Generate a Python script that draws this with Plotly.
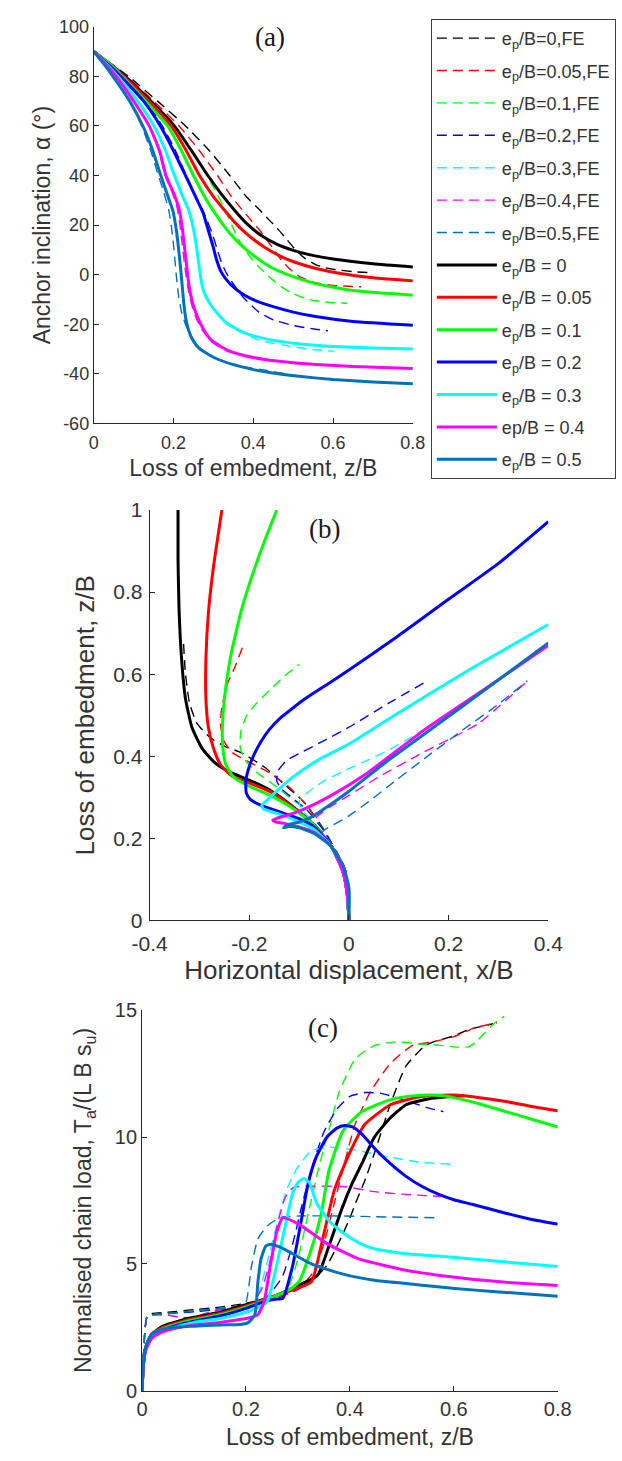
import plotly.graph_objects as go

# ---------------------------------------------------------------------------
# Series styling / labels
# ---------------------------------------------------------------------------
EP_VALUES = ["0", "0.05", "0.1", "0.2", "0.3", "0.4", "0.5"]
COLORS = ["#000000", "#FF0000", "#00FF00", "#0000FF", "#00FFFF", "#FF00FF", "#0072BD"]
FE_LABELS = ["e<sub>p</sub>/B=0,FE", "e<sub>p</sub>/B=0.05,FE", "e<sub>p</sub>/B=0.1,FE",
             "e<sub>p</sub>/B=0.2,FE", "e<sub>p</sub>/B=0.3,FE", "e<sub>p</sub>/B=0.4,FE",
             "e<sub>p</sub>/B=0.5,FE"]
AN_LABELS = ["e<sub>p</sub>/B = 0", "e<sub>p</sub>/B = 0.05", "e<sub>p</sub>/B = 0.1",
             "e<sub>p</sub>/B = 0.2", "e<sub>p</sub>/B = 0.3", "ep/B = 0.4",
             "e<sub>p</sub>/B = 0.5"]

# ---------------------------------------------------------------------------
# (a) anchor inclination vs loss of embedment
# ---------------------------------------------------------------------------
# FE results
a_fe0_z = [0, 0.045, 0.087, 0.16, 0.23, 0.29, 0.341, 0.385, 0.413, 0.44, 0.46, 0.485, 0.508, 0.53, 0.556, 0.58, 0.603, 0.65, 0.698]
a_fe0_al = [90, 85, 80, 70, 60, 50, 40, 31, 26.6, 22, 18.7, 14, 9.6, 6.5, 4.1, 2.8, 2.1, 1.2, 0.8]
a_fe005_z = [0, 0.044, 0.083, 0.15, 0.214, 0.265, 0.31, 0.345, 0.373, 0.393, 0.413, 0.433, 0.452, 0.47, 0.49, 0.516, 0.55, 0.6, 0.67]
a_fe005_al = [90, 85, 80, 70, 60, 50, 40, 31.5, 26, 22.2, 18.5, 14.3, 10, 6, 2.5, -0.8, -3, -4.3, -4.9]
a_fe01_z = [0, 0.044, 0.08, 0.145, 0.2, 0.245, 0.28, 0.308, 0.328, 0.346, 0.365, 0.389, 0.413, 0.444, 0.47, 0.492, 0.52, 0.556, 0.6, 0.635]
a_fe01_al = [90, 85, 80, 70, 60, 50, 41, 33, 26.5, 20, 13.6, 7.8, 3.3, -1.5, -4.8, -7, -9, -10.5, -11.3, -11.5]
a_fe02_z = [0, 0.037, 0.07, 0.13, 0.172, 0.205, 0.232, 0.258, 0.28, 0.296, 0.309, 0.32, 0.333, 0.349, 0.373, 0.413, 0.45, 0.5, 0.556, 0.587]
a_fe02_al = [90, 85, 80, 70, 60, 50, 40, 31, 23.5, 17, 10.5, 5, 0.5, -3.5, -8.8, -15, -18.2, -20.5, -22, -22.6]
a_fe03_z = [0, 0.032, 0.06, 0.11, 0.151, 0.18, 0.2, 0.222, 0.238, 0.248, 0.256, 0.262, 0.268, 0.276, 0.29, 0.317, 0.357, 0.413, 0.492, 0.55, 0.603]
a_fe03_al = [90, 85, 80, 70, 60, 50, 41, 32, 26, 19.5, 12, 5, -1, -6, -11, -17, -22.2, -26.3, -28.9, -30.2, -30.9]
a_fe04_z = [0, 0.03, 0.056, 0.1, 0.138, 0.163, 0.179, 0.197, 0.209, 0.216, 0.222, 0.227, 0.232, 0.238, 0.246, 0.258, 0.275, 0.295, 0.33, 0.38, 0.42, 0.45]
a_fe04_al = [90, 85, 80, 70, 60, 50, 40, 33, 27, 20, 12, 5, -1, -7, -12.5, -18, -23, -27, -30.5, -32.8, -34, -34.5]
a_fe05_z = [0, 0.025, 0.048, 0.09, 0.12, 0.143, 0.16, 0.176, 0.188, 0.195, 0.2, 0.204, 0.208, 0.213, 0.22, 0.23, 0.245, 0.265, 0.29, 0.333, 0.38, 0.421, 0.5, 0.567]
a_fe05_al = [90, 85, 80, 70, 60, 50, 41, 33, 26, 19, 12, 5, -2, -9, -15, -20, -25, -29.5, -32.5, -35.5, -37.2, -38.3, -40.5, -42]

# analytical results
a_an0_z = [0, 0.04, 0.079, 0.14, 0.202, 0.245, 0.286, 0.32, 0.353, 0.381, 0.42, 0.46, 0.5, 0.54, 0.6, 0.7, 0.8]
a_an0_al = [90, 85, 80, 70.5, 60, 50, 40, 32.5, 26, 21, 15.8, 12.2, 9.8, 8.1, 6.3, 4.4, 3.1]
a_an005_z = [0, 0.04, 0.075, 0.135, 0.194, 0.232, 0.265, 0.3, 0.333, 0.353, 0.373, 0.4, 0.429, 0.47, 0.516, 0.56, 0.619, 0.7, 0.8]
a_an005_al = [90, 85, 80, 70.5, 60, 50, 40, 31.5, 25, 21.2, 18, 14.3, 11, 7.3, 4.4, 2.4, 0.5, -1.2, -2.5]
a_an01_z = [0, 0.04, 0.071, 0.13, 0.185, 0.22, 0.25, 0.283, 0.303, 0.325, 0.345, 0.365, 0.389, 0.415, 0.444, 0.5, 0.556, 0.65, 0.8]
a_an01_al = [90, 85, 80, 70, 60, 50, 40, 30, 25, 20, 16, 12.6, 9.2, 6, 3, -0.8, -3.6, -6.4, -8.3]
a_an02_z = [0, 0.035, 0.067, 0.125, 0.167, 0.2, 0.23, 0.255, 0.274, 0.287, 0.298, 0.308, 0.318, 0.33, 0.345, 0.373, 0.41, 0.452, 0.5, 0.556, 0.65, 0.8]
a_an02_al = [90, 85, 80, 70, 60, 50, 40, 31.5, 25, 18, 12, 6, 1.5, -1.5, -4.2, -7.8, -10.8, -13, -15.1, -16.9, -18.9, -20.4]
a_an03_z = [0, 0.032, 0.06, 0.11, 0.151, 0.18, 0.2, 0.222, 0.238, 0.248, 0.256, 0.262, 0.267, 0.272, 0.28, 0.298, 0.333, 0.381, 0.444, 0.52, 0.6, 0.7, 0.8]
a_an03_al = [90, 85, 80, 70, 60, 50, 41, 32, 26, 20, 13, 6, 0, -4.5, -8.5, -13.3, -19.5, -23.7, -26.3, -28, -29, -29.6, -30]
a_an04_z = [0, 0.03, 0.056, 0.1, 0.139, 0.165, 0.181, 0.2, 0.213, 0.221, 0.227, 0.232, 0.236, 0.241, 0.248, 0.26, 0.275, 0.294, 0.333, 0.38, 0.429, 0.5, 0.556, 0.65, 0.8]
a_an04_al = [90, 85, 80, 70, 60, 50, 40, 33, 27, 20, 12, 5, -1, -6.5, -11.5, -17, -22, -26.3, -30.3, -32.7, -34.2, -35.5, -36.2, -37, -37.8]
a_an05_z = [0, 0.025, 0.048, 0.09, 0.123, 0.148, 0.167, 0.185, 0.198, 0.207, 0.213, 0.218, 0.222, 0.226, 0.231, 0.238, 0.248, 0.265, 0.3, 0.35, 0.4, 0.444, 0.52, 0.6, 0.7, 0.8]
a_an05_al = [90, 85, 80, 70, 60, 50, 40.5, 32, 26, 18, 10, 2, -5, -12, -18, -22.5, -26.3, -29.8, -33.3, -36.3, -38.3, -39.6, -41.1, -42.3, -43.3, -44]

# ---------------------------------------------------------------------------
# (b) anchor trajectory: horizontal displacement x/B vs loss of embedment z/B
# ---------------------------------------------------------------------------
b_fe0_x = [0, -0.001, -0.006, -0.025, -0.051, -0.089, -0.133, -0.171, -0.215, -0.25, -0.278, -0.305, -0.32, -0.328, -0.332]
b_fe0_z = [0, 0.06, 0.119, 0.167, 0.223, 0.287, 0.335, 0.375, 0.408, 0.425, 0.445, 0.48, 0.53, 0.6, 0.676]
b_fe005_x = [0, -0.001, -0.006, -0.025, -0.051, -0.085, -0.12, -0.16, -0.2, -0.235, -0.252, -0.258, -0.255, -0.244, -0.228, -0.212]
b_fe005_z = [0, 0.06, 0.119, 0.167, 0.22, 0.28, 0.325, 0.36, 0.386, 0.41, 0.44, 0.481, 0.52, 0.576, 0.62, 0.671]
b_fe01_x = [0, -0.001, -0.006, -0.025, -0.051, -0.085, -0.114, -0.15, -0.183, -0.208, -0.218, -0.217, -0.205, -0.185, -0.16, -0.13, -0.1]
b_fe01_z = [0, 0.06, 0.119, 0.167, 0.22, 0.27, 0.295, 0.33, 0.359, 0.39, 0.42, 0.46, 0.5, 0.53, 0.56, 0.595, 0.624]
b_fe02_x = [0, -0.001, -0.006, -0.025, -0.051, -0.085, -0.115, -0.135, -0.145, -0.142, -0.125, -0.095, -0.05, 0.006, 0.079, 0.156]
b_fe02_z = [0, 0.06, 0.119, 0.167, 0.22, 0.27, 0.3, 0.32, 0.34, 0.365, 0.39, 0.41, 0.438, 0.475, 0.529, 0.583]
b_fe03_x = [0, -0.001, -0.006, -0.025, -0.05, -0.075, -0.095, -0.1, -0.085, -0.05, 0.0, 0.04, 0.079, 0.12, 0.16]
b_fe03_z = [0, 0.06, 0.119, 0.167, 0.21, 0.245, 0.27, 0.29, 0.31, 0.34, 0.37, 0.392, 0.415, 0.443, 0.473]
b_fe04_x = [0, -0.001, -0.006, -0.025, -0.05, -0.068, -0.065, -0.04, 0.0, 0.06, 0.15, 0.26, 0.355]
b_fe04_z = [0, 0.06, 0.119, 0.167, 0.21, 0.235, 0.252, 0.275, 0.305, 0.35, 0.41, 0.48, 0.58]
b_fe05_x = [0, -0.001, -0.006, -0.025, -0.045, -0.058, -0.05, -0.025, 0.0, 0.04, 0.079, 0.152, 0.226, 0.3, 0.358]
b_fe05_z = [0, 0.06, 0.119, 0.167, 0.19, 0.205, 0.22, 0.237, 0.255, 0.29, 0.327, 0.395, 0.462, 0.527, 0.584]

b_an0_x = [0, -0.003, -0.012, -0.035, -0.07, -0.11, -0.155, -0.2, -0.24, -0.27, -0.295, -0.315, -0.328, -0.336, -0.341, -0.343, -0.343]
b_an0_z = [0, 0.06, 0.119, 0.18, 0.232, 0.275, 0.315, 0.342, 0.362, 0.385, 0.42, 0.47, 0.54, 0.64, 0.76, 0.88, 1.0]
b_an005_x = [0, -0.003, -0.012, -0.035, -0.07, -0.11, -0.155, -0.2, -0.235, -0.258, -0.272, -0.282, -0.287, -0.287, -0.282, -0.272, -0.255]
b_an005_z = [0, 0.06, 0.119, 0.18, 0.232, 0.273, 0.312, 0.335, 0.352, 0.38, 0.42, 0.47, 0.54, 0.64, 0.75, 0.86, 1.0]
b_an01_x = [0, -0.003, -0.012, -0.035, -0.07, -0.11, -0.155, -0.2, -0.232, -0.247, -0.253, -0.254, -0.25, -0.238, -0.215, -0.18, -0.145]
b_an01_z = [0, 0.06, 0.119, 0.18, 0.232, 0.271, 0.303, 0.327, 0.35, 0.38, 0.42, 0.47, 0.54, 0.64, 0.76, 0.89, 1.0]
b_an02_x = [0, -0.003, -0.012, -0.035, -0.07, -0.1, -0.14, -0.177, -0.198, -0.206, -0.207, -0.2, -0.19, -0.177, -0.16, -0.139, -0.11, -0.088, -0.04, 0.0, 0.095, 0.19, 0.3, 0.4]
b_an02_z = [0, 0.06, 0.119, 0.18, 0.228, 0.248, 0.265, 0.281, 0.295, 0.311, 0.34, 0.375, 0.405, 0.435, 0.465, 0.492, 0.52, 0.54, 0.578, 0.61, 0.69, 0.774, 0.87, 0.972]
b_an03_x = [0, -0.003, -0.012, -0.035, -0.07, -0.1, -0.13, -0.155, -0.172, -0.175, -0.165, -0.145, -0.114, -0.063, 0.0, 0.075, 0.152, 0.25, 0.4]
b_an03_z = [0, 0.06, 0.119, 0.18, 0.222, 0.24, 0.255, 0.265, 0.272, 0.28, 0.292, 0.315, 0.348, 0.39, 0.43, 0.487, 0.545, 0.617, 0.721]
b_an04_x = [0, -0.003, -0.012, -0.035, -0.07, -0.1, -0.128, -0.148, -0.153, -0.145, -0.12, -0.089, -0.038, 0.032, 0.152, 0.28, 0.4]
b_an04_z = [0, 0.06, 0.119, 0.18, 0.215, 0.228, 0.236, 0.24, 0.244, 0.249, 0.258, 0.272, 0.303, 0.355, 0.465, 0.57, 0.67]
b_an05_x = [0, 0.0, -0.012, -0.038, -0.07, -0.1, -0.122, -0.131, -0.125, -0.1, -0.075, -0.04, 0.0, 0.079, 0.226, 0.4]
b_an05_z = [0, 0.079, 0.135, 0.183, 0.212, 0.226, 0.229, 0.226, 0.232, 0.24, 0.252, 0.28, 0.315, 0.39, 0.52, 0.676]

# ---------------------------------------------------------------------------
# (c) normalised chain load vs loss of embedment
# ---------------------------------------------------------------------------
c_fe0_z = [0, 0.003, 0.006, 0.01, 0.02, 0.05, 0.1, 0.15, 0.2, 0.25, 0.3, 0.33, 0.356, 0.38, 0.399, 0.411, 0.429, 0.447, 0.478, 0.508, 0.545, 0.569, 0.6, 0.63, 0.676]
c_fe0_t = [0, 1.5, 2.5, 2.95, 3.05, 3.1, 3.2, 3.3, 3.45, 3.65, 4.0, 4.4, 4.95, 5.9, 6.76, 7.4, 8.3, 9.35, 11.3, 12.8, 13.6, 13.8, 13.98, 14.24, 14.46]
c_fe005_z = [0, 0.003, 0.006, 0.01, 0.02, 0.05, 0.1, 0.15, 0.2, 0.25, 0.3, 0.33, 0.35, 0.37, 0.39, 0.41, 0.44, 0.478, 0.52, 0.56, 0.6, 0.64, 0.683]
c_fe005_t = [0, 1.5, 2.5, 2.95, 3.0, 3.05, 3.15, 3.25, 3.4, 3.6, 4.0, 4.7, 5.8, 7.4, 9.0, 10.5, 11.8, 12.9, 13.6, 13.75, 13.95, 14.3, 14.5]
c_fe01_z = [0, 0.003, 0.006, 0.01, 0.02, 0.05, 0.1, 0.15, 0.2, 0.25, 0.28, 0.3, 0.32, 0.34, 0.36, 0.38, 0.411, 0.447, 0.49, 0.539, 0.571, 0.6, 0.629, 0.643, 0.679, 0.697]
c_fe01_t = [0, 1.5, 2.5, 2.95, 3.0, 3.05, 3.15, 3.25, 3.4, 3.6, 4.0, 5.2, 7.0, 8.8, 10.3, 11.8, 13.1, 13.6, 13.75, 13.65, 13.62, 13.55, 13.55, 13.75, 14.5, 14.75]
c_fe02_z = [0, 0.003, 0.006, 0.01, 0.02, 0.05, 0.1, 0.15, 0.2, 0.24, 0.27, 0.29, 0.31, 0.33, 0.35, 0.375, 0.4, 0.43, 0.46, 0.49, 0.52, 0.55, 0.58]
c_fe02_t = [0, 1.5, 2.5, 2.95, 3.0, 3.05, 3.12, 3.22, 3.4, 3.7, 4.5, 5.8, 7.5, 9.0, 10.2, 11.1, 11.6, 11.75, 11.72, 11.55, 11.35, 11.15, 11.0]
c_fe03_z = [0, 0.003, 0.006, 0.01, 0.02, 0.05, 0.08, 0.1, 0.13, 0.15, 0.2, 0.22, 0.24, 0.265, 0.28, 0.296, 0.326, 0.36, 0.417, 0.478, 0.539, 0.593]
c_fe03_t = [0, 1.5, 2.5, 2.95, 3.0, 2.98, 2.9, 2.92, 3.1, 3.2, 3.3, 3.6, 5.0, 7.0, 8.0, 8.7, 9.46, 9.6, 9.46, 9.2, 9.0, 8.93]
c_fe04_z = [0, 0.003, 0.006, 0.01, 0.02, 0.05, 0.08, 0.1, 0.13, 0.15, 0.19, 0.21, 0.23, 0.245, 0.26, 0.275, 0.29, 0.302, 0.387, 0.447, 0.5, 0.539, 0.575]
c_fe04_t = [0, 1.5, 2.5, 2.95, 3.0, 2.98, 2.88, 2.9, 3.1, 3.2, 3.3, 3.4, 4.0, 5.0, 6.5, 7.6, 8.0, 8.05, 8.05, 7.85, 7.75, 7.7, 7.66]
c_fe05_z = [0, 0.003, 0.006, 0.01, 0.02, 0.05, 0.1, 0.15, 0.19, 0.2, 0.211, 0.223, 0.241, 0.265, 0.302, 0.387, 0.447, 0.566]
c_fe05_t = [0, 1.5, 2.5, 2.95, 3.0, 3.05, 3.15, 3.25, 3.35, 3.5, 4.95, 5.99, 6.5, 6.82, 6.89, 6.89, 6.86, 6.82]

c_an0_z = [0, 0.002, 0.005, 0.01, 0.02, 0.04, 0.07, 0.1, 0.15, 0.2, 0.25, 0.3, 0.338, 0.362, 0.385, 0.405, 0.423, 0.447, 0.478, 0.508, 0.55, 0.6, 0.62]
c_an0_t = [0, 0.9, 1.5, 1.9, 2.25, 2.55, 2.75, 2.9, 3.1, 3.4, 3.7, 4.15, 4.56, 5.85, 7.2, 8.2, 8.95, 9.99, 10.76, 11.27, 11.5, 11.6, 11.62]
c_an005_z = [0, 0.002, 0.005, 0.01, 0.02, 0.04, 0.07, 0.1, 0.15, 0.2, 0.25, 0.3, 0.326, 0.35, 0.37, 0.399, 0.429, 0.478, 0.539, 0.6, 0.65, 0.7, 0.75, 0.8]
c_an005_t = [0, 0.9, 1.5, 1.9, 2.25, 2.5, 2.7, 2.85, 3.05, 3.35, 3.7, 4.05, 4.3, 6.2, 7.9, 9.35, 10.5, 11.27, 11.6, 11.65, 11.55, 11.4, 11.2, 11.03]
c_an01_z = [0, 0.002, 0.005, 0.01, 0.02, 0.04, 0.07, 0.1, 0.15, 0.2, 0.25, 0.28, 0.302, 0.326, 0.344, 0.36, 0.387, 0.423, 0.478, 0.52, 0.56, 0.6, 0.65, 0.7, 0.75, 0.8]
c_an01_t = [0, 0.9, 1.5, 1.85, 2.2, 2.45, 2.65, 2.8, 3.0, 3.3, 3.68, 3.95, 4.3, 5.6, 6.9, 8.7, 10.25, 11.0, 11.47, 11.62, 11.65, 11.55, 11.3, 11.0, 10.7, 10.39]
c_an02_z = [0, 0.002, 0.005, 0.01, 0.02, 0.04, 0.07, 0.1, 0.15, 0.2, 0.24, 0.26, 0.271, 0.29, 0.308, 0.32, 0.335, 0.356, 0.375, 0.39, 0.405, 0.423, 0.45, 0.478, 0.508, 0.539, 0.57, 0.6, 0.635, 0.7, 0.75, 0.8]
c_an02_t = [0, 0.85, 1.45, 1.8, 2.15, 2.4, 2.6, 2.75, 2.95, 3.25, 3.55, 3.62, 3.65, 4.95, 6.89, 8.2, 9.2, 10.0, 10.35, 10.45, 10.4, 10.11, 9.5, 8.95, 8.45, 8.05, 7.75, 7.53, 7.35, 7.0, 6.75, 6.57]
c_an03_z = [0, 0.002, 0.005, 0.01, 0.02, 0.04, 0.07, 0.1, 0.15, 0.2, 0.225, 0.241, 0.259, 0.277, 0.29, 0.3, 0.311, 0.322, 0.336, 0.36, 0.386, 0.42, 0.447, 0.508, 0.569, 0.635, 0.7, 0.8]
c_an03_t = [0, 0.85, 1.45, 1.78, 2.12, 2.37, 2.55, 2.7, 2.85, 3.1, 3.3, 3.52, 4.95, 6.63, 7.8, 8.2, 8.37, 8.2, 7.4, 6.7, 6.24, 5.8, 5.6, 5.4, 5.31, 5.2, 5.08, 4.9]
c_an04_z = [0, 0.002, 0.005, 0.01, 0.02, 0.04, 0.07, 0.1, 0.15, 0.2, 0.21, 0.223, 0.235, 0.247, 0.259, 0.271, 0.302, 0.357, 0.417, 0.508, 0.569, 0.635, 0.7, 0.8]
c_an04_t = [0, 0.8, 1.4, 1.75, 2.1, 2.33, 2.5, 2.6, 2.7, 2.85, 2.9, 3.0, 3.52, 4.95, 6.24, 6.82, 6.56, 5.79, 5.2, 4.75, 4.56, 4.4, 4.28, 4.15]
c_an05_z = [0, 0.002, 0.007, 0.018, 0.035, 0.053, 0.1, 0.15, 0.19, 0.205, 0.217, 0.223, 0.229, 0.238, 0.247, 0.266, 0.326, 0.387, 0.447, 0.508, 0.569, 0.635, 0.7, 0.8]
c_an05_t = [0, 0.94, 1.72, 2.23, 2.4, 2.49, 2.55, 2.6, 2.62, 2.7, 3.0, 4.3, 5.2, 5.7, 5.78, 5.66, 5.0, 4.6, 4.36, 4.23, 4.1, 3.98, 3.88, 3.73]

A_FE = [(a_fe0_z, a_fe0_al), (a_fe005_z, a_fe005_al), (a_fe01_z, a_fe01_al), (a_fe02_z, a_fe02_al),
        (a_fe03_z, a_fe03_al), (a_fe04_z, a_fe04_al), (a_fe05_z, a_fe05_al)]
A_AN = [(a_an0_z, a_an0_al), (a_an005_z, a_an005_al), (a_an01_z, a_an01_al), (a_an02_z, a_an02_al),
        (a_an03_z, a_an03_al), (a_an04_z, a_an04_al), (a_an05_z, a_an05_al)]
B_FE = [(b_fe0_x, b_fe0_z), (b_fe005_x, b_fe005_z), (b_fe01_x, b_fe01_z), (b_fe02_x, b_fe02_z),
        (b_fe03_x, b_fe03_z), (b_fe04_x, b_fe04_z), (b_fe05_x, b_fe05_z)]
B_AN = [(b_an0_x, b_an0_z), (b_an005_x, b_an005_z), (b_an01_x, b_an01_z), (b_an02_x, b_an02_z),
        (b_an03_x, b_an03_z), (b_an04_x, b_an04_z), (b_an05_x, b_an05_z)]
C_FE = [(c_fe0_z, c_fe0_t), (c_fe005_z, c_fe005_t), (c_fe01_z, c_fe01_t), (c_fe02_z, c_fe02_t),
        (c_fe03_z, c_fe03_t), (c_fe04_z, c_fe04_t), (c_fe05_z, c_fe05_t)]
C_AN = [(c_an0_z, c_an0_t), (c_an005_z, c_an005_t), (c_an01_z, c_an01_t), (c_an02_z, c_an02_t),
        (c_an03_z, c_an03_t), (c_an04_z, c_an04_t), (c_an05_z, c_an05_t)]

# ---------------------------------------------------------------------------
# Figure
# ---------------------------------------------------------------------------
W, H = 622, 1461
FE_WIDTH, AN_WIDTH = 1.4, 3.0
DASH = "10px,6px"

fig = go.Figure()


def add_series(xs, ys, color, dashed, xa, ya, name, legend):
    fig.add_trace(go.Scatter(
        x=xs, y=ys, mode="lines", name=name,
        xaxis=xa, yaxis=ya,
        line=dict(color=color, width=FE_WIDTH if dashed else AN_WIDTH,
                  dash=DASH if dashed else "solid", shape="spline", smoothing=0.5),
        showlegend=legend, legendgroup=name, hoverinfo="skip",
    ))


panels = [(A_FE, A_AN, "x", "y", True), (B_FE, B_AN, "x2", "y2", False), (C_FE, C_AN, "x3", "y3", False)]
for fe, an, xa, ya, legend in panels:
    for i, (xs, ys) in enumerate(fe):
        add_series(xs, ys, COLORS[i], True, xa, ya, FE_LABELS[i], legend)
    for i, (xs, ys) in enumerate(an):
        add_series(xs, ys, COLORS[i], False, xa, ya, AN_LABELS[i], legend)


def px_x(p):
    return p / W


def px_y(p):
    return 1 - p / H


TXT = "#333333"
AX = "#262626"
SANS = "Liberation Sans, Arial, sans-serif"
SERIF = "Liberation Serif, Times New Roman, serif"


def axis(domain, rng, tickvals, ticktext, title, size, tsize, standoff, anchor, label_gap=0):
    return dict(
        domain=domain, range=rng, anchor=anchor,
        tickmode="array", tickvals=tickvals, ticktext=ticktext,
        ticks="inside", ticklen=5, tickwidth=1, tickcolor=AX,
        showline=True, linecolor=AX, linewidth=1, mirror=False,
        showgrid=False, zeroline=False, ticklabelstandoff=label_gap,
        tickfont=dict(family=SANS, size=size, color=TXT),
        title=dict(text=title, font=dict(family=SANS, size=tsize, color=TXT), standoff=standoff),
    )


def panel_label(text, xa, ya, x, y):
    return dict(text=text, x=x, y=y, xref=xa, yref=ya, showarrow=False,
                font=dict(family=SERIF, size=27, color="#1a1a1a"))


fig.update_layout(
    width=W, height=H,
    margin=dict(l=0, r=0, t=0, b=0),
    paper_bgcolor="white", plot_bgcolor="white",
    xaxis=axis([px_x(80), px_x(417)], [0, 0.8], [0, 0.2, 0.4, 0.6, 0.8],
               ["0", "0.2", "0.4", "0.6", "0.8"], "Loss of embedment, z/B", 18, 23, 7, "y", 3),
    yaxis=axis([px_y(418), px_y(15)], [-60, 100], [-60, -40, -20, 0, 20, 40, 60, 80, 100],
               ["-60", "-40", "-20", "0", "20", "40", "60", "80", "100"],
               "Anchor inclination, α (°)", 18, 23, 2, "x"),
    xaxis2=axis([px_x(139), px_x(560)], [-0.4, 0.4], [-0.4, -0.2, 0, 0.2, 0.4],
                ["-0.4", "-0.2", "0", "0.2", "0.4"], "Horizontal displacement, x/B", 21, 26, 7, "y2", 4),
    yaxis2=axis([px_y(923), px_y(506)], [0, 1], [0, 0.2, 0.4, 0.6, 0.8, 1],
                ["0", "0.2", "0.4", "0.6", "0.8", "1"], "Loss of embedment, z/B", 21, 26, 11, "x2", 2),
    xaxis3=axis([px_x(131), px_x(570)], [0, 0.8], [0, 0.2, 0.4, 0.6, 0.8],
                ["0", "0.2", "0.4", "0.6", "0.8"], "Loss of embedment, z/B", 20, 23, 9, "y3"),
    yaxis3=axis([px_y(1401), px_y(1014)], [0, 15], [0, 5, 10, 15],
                ["0", "5", "10", "15"], "Normalised chain load, T<sub>a</sub>/(L B s<sub>u</sub>)", 20, 23, 16, "x3"),
    legend=dict(
        x=px_x(436), y=px_y(7), xanchor="left", yanchor="top",
        bgcolor="white", bordercolor="#404040", borderwidth=1,
        font=dict(family=SANS, size=18, color=TXT),
        tracegroupgap=6, itemwidth=60, traceorder="grouped",
    ),
    annotations=[
        panel_label("(a)", "x", "y", 0.442, 96.0),
        panel_label("(b)", "x2", "y2", -0.05, 0.954),
        panel_label("(c)", "x3", "y3", 0.348, 14.3),
    ],
)

fig.write_html("out.html")
